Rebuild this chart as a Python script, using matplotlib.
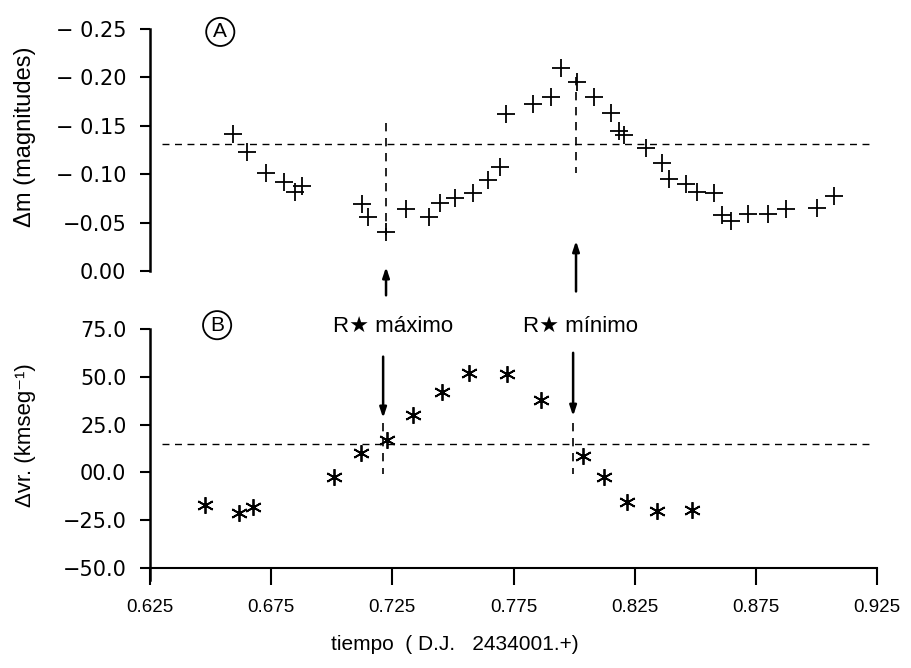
import matplotlib
matplotlib.use("Agg")
import matplotlib.pyplot as plt

plt.rcParams['font.family'] = ['Liberation Sans', 'DejaVu Sans']

# ---- data (panel A: magnitude differences) ----
t_mag = [0.6593, 0.6650, 0.6729, 0.6803, 0.6848, 0.6877, 0.7125, 0.7150, 0.7224,
         0.7307, 0.7401, 0.7447, 0.7509, 0.7583, 0.7645, 0.7694, 0.7719, 0.7831,
         0.7905, 0.7946, 0.8012, 0.8082, 0.8153, 0.8186, 0.8206, 0.8297, 0.8363,
         0.8392, 0.8462, 0.8508, 0.8578, 0.8611, 0.8648, 0.8718, 0.8801, 0.8875,
         0.9003, 0.9073]
dm = [-0.142, -0.123, -0.101, -0.092, -0.082, -0.088, -0.069, -0.056, -0.040,
      -0.064, -0.056, -0.070, -0.075, -0.081, -0.094, -0.107, -0.162, -0.173,
      -0.180, -0.210, -0.195, -0.180, -0.163, -0.145, -0.140, -0.127, -0.112,
      -0.095, -0.090, -0.082, -0.081, -0.058, -0.052, -0.059, -0.059, -0.064,
      -0.065, -0.077]

# ---- data (panel B: radial velocities) ----
t_vel = [0.6477, 0.6617, 0.6675, 0.7010, 0.7120, 0.7228, 0.7335, 0.7455,
         0.7567, 0.7723, 0.7864, 0.8037, 0.8124, 0.8218, 0.8342, 0.8487]
dvr = [-17.3, -21.4, -18.3, -2.6, 9.9, 16.7, 29.8, 41.8,
       51.8, 51.3, 37.7, 8.4, -2.6, -15.7, -20.4, -19.4]

mean_dm = -0.131
mean_dvr = 15.0
t_max = 0.7224   # R* maximo
t_min = 0.8008   # R* minimo

x_ticks = [0.625, 0.675, 0.725, 0.775, 0.825, 0.875, 0.925]
x_ticklabels = ["0.625", "0.675", "0.725", "0.775", "0.825", "0.875", "0.925"]
ya_ticks = [-0.25, -0.20, -0.15, -0.10, -0.05, 0.00]
ya_ticklabels = ["\u2212 0.25", "\u2212 0.20", "\u2212 0.15", "\u2212 0.10", "\u22120.05", "0.00"]
yb_ticks = [75, 50, 25, 0, -25, -50]
yb_ticklabels = ["75.0", "50.0", "25.0", "00.0", "\u221225.0", "\u221250.0"]

W, H = 911, 668
fig = plt.figure(figsize=(W / 100, H / 100), dpi=100)

def px_rect(left, top, right, bottom):
    return [left / W, 1 - bottom / H, (right - left) / W, (bottom - top) / H]

axA = fig.add_axes(px_rect(150, 29, 877, 271))
axB = fig.add_axes(px_rect(150, 329, 877, 579.5))

FS_X = 13.5
FS_Y = 15
YFAM = ['DejaVu Sans']
dash = (0, (5, 4))
arrow_style = dict(arrowstyle='-|>,head_length=0.6,head_width=0.2', lw=1.8, color='black')

# ---- panel A ----
axA.plot(t_mag, dm, linestyle='none', marker='+', markersize=13, mew=1.3, color='black')
axA.set_xlim(0.625, 0.925)
axA.set_ylim(0.0, -0.25)
axA.plot([0.630, 0.9235], [mean_dm, mean_dm], color='black', lw=1.0, linestyle=dash)
axA.plot([t_max, t_max], [-0.153, -0.037], color='black', lw=1.2, linestyle=dash)
axA.plot([t_min, t_min], [-0.200, -0.101], color='black', lw=1.2, linestyle=dash)
for s in ['top', 'right', 'bottom']:
    axA.spines[s].set_visible(False)
axA.spines['left'].set_linewidth(1.8)
axA.set_xticks([])
axA.set_yticks(ya_ticks)
axA.set_yticklabels(ya_ticklabels, fontsize=FS_Y, family=YFAM)
axA.tick_params(axis='y', direction='out', length=7, width=1.5, pad=10)
axA.text(0.654, -0.247, "A", fontsize=15, ha='center', va='center',
         bbox=dict(boxstyle='circle,pad=0.22', fc='white', ec='black', lw=1.3))
axA.annotate('', xy=(t_max, -0.007), xytext=(t_max, 0.028),
             arrowprops=arrow_style, annotation_clip=False)
axA.annotate('', xy=(t_min, -0.034), xytext=(t_min, 0.024),
             arrowprops=arrow_style, annotation_clip=False)
fig.text(25 / W, 1 - 137 / H, "\u0394m (magnitudes)", rotation=90, ha='center', va='center',
         fontsize=17)

# ---- panel B ----
axB.plot(t_vel, dvr, linestyle='none', marker=(6, 2, 0), markersize=12, mew=1.3, color='black')
axB.set_xlim(0.625, 0.925)
axB.set_ylim(-56, 75)
axB.plot([0.630, 0.9215], [mean_dvr, mean_dvr], color='black', lw=1.0, linestyle=dash)
axB.plot([0.7212, 0.7212], [26, -1], color='black', lw=1.2, linestyle=dash)
axB.plot([0.7996, 0.7996], [26, -1], color='black', lw=1.2, linestyle=dash)
for s in ['top', 'right']:
    axB.spines[s].set_visible(False)
axB.spines['left'].set_linewidth(1.8)
axB.spines['bottom'].set_linewidth(1.5)
axB.spines['bottom'].set_position(('data', -50))
axB.set_yticks(yb_ticks)
axB.set_yticklabels(yb_ticklabels, fontsize=FS_Y, family=YFAM)
axB.set_xticks(x_ticks)
axB.set_xticklabels(x_ticklabels, fontsize=FS_X)
axB.tick_params(axis='y', direction='out', length=7, width=1.5, pad=10)
axB.tick_params(axis='x', direction='out', length=12, width=1.5, pad=10)
axB.text(0.6527, 77, "B", fontsize=15, ha='center', va='center',
         bbox=dict(boxstyle='circle,pad=0.22', fc='white', ec='black', lw=1.3))
axB.text(0.7252, 76.5, "R\u2605 m\u00e1ximo", fontsize=16, ha='center', va='center')
axB.text(0.8025, 76.5, "R\u2605 m\u00ednimo", fontsize=16, ha='center', va='center')
axB.annotate('', xy=(0.7212, 27), xytext=(0.7212, 62), arrowprops=arrow_style)
axB.annotate('', xy=(0.7996, 28), xytext=(0.7996, 64), arrowprops=arrow_style)
fig.text(25 / W, 1 - 435 / H, "\u0394vr. (kmseg\u207b\u00b9)", rotation=90, ha='center', va='center',
         fontsize=16)
fig.text(455 / W, 1 - 645 / H, "tiempo  ( D.J.   2434001.+)", ha='center', va='center', fontsize=15)

fig.savefig("out.png", dpi=100)
